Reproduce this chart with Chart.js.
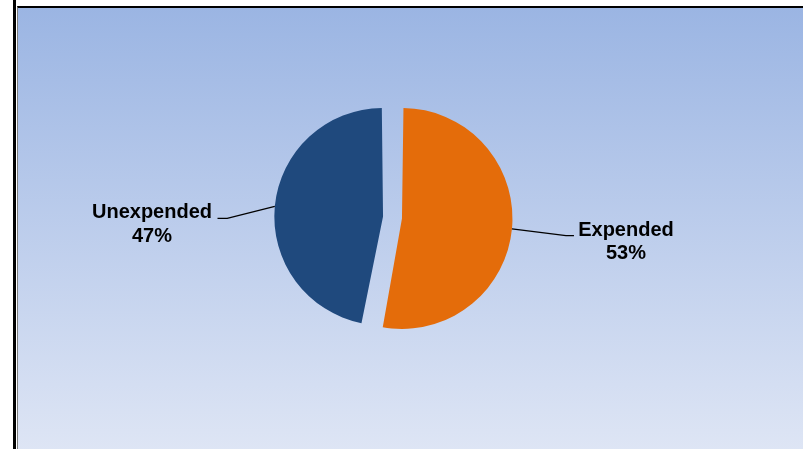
<!DOCTYPE html>
<html>
<head>
<meta charset="utf-8">
<script src="https://cdn.jsdelivr.net/npm/chart.js@4.4.1/dist/chart.umd.min.js"></script>
<style>
  body { margin: 0; background: #fff; width: 803px; height: 449px; overflow: hidden; position: relative; }
  #edge { position: absolute; left: 13px; top: 0; width: 3px; height: 449px; background: #000; }
  #frame { position: absolute; left: 17px; top: 6px; width: 800px; height: 450px;
           border-top: 2px solid #000; border-left: 1px solid #7f7f7f;
           background: linear-gradient(to bottom, #9bb5e3 0%, #dfe6f5 100%); }
  #myChart { position: absolute; left: 0; top: 0; }
</style>
</head>
<body>
<div id="edge"></div>
<div id="frame"><canvas id="myChart" width="749" height="419"></canvas></div>
<script>
// datos del grafico
const categories = ['Expended', 'Unexpended'];
const percents = [53, 47];
const colors = ['#e46c0a', '#1f497d'];

// separacion de las porciones (Chart.js desplaza offset/4)
const sliceOffset = 38;

// donde va cada etiqueta respecto al borde del arco
const labelPos = [
  { elbowX: 54, elbowY: 6.9, endX: 62, textX: 114, textY: 6.9 },
  { elbowX: -47.6, elbowY: 12, endX: -57.3, textX: -122.8, textY: 12 }
];

const labelPlugin = {
  id: 'labels',
  afterDatasetsDraw(chart) {
    const ctx = chart.ctx;
    const arcs = chart.getDatasetMeta(0).data;
    arcs.forEach((arc, i) => {
      const p = arc.getProps(['x', 'y', 'startAngle', 'endAngle', 'outerRadius', 'circumference']);
      const mid = (p.startAngle + p.endAngle) / 2;
      const off = sliceOffset / 4;
      // Chart.js tambien agranda el radio con el offset
      const fix = 1 - Math.sin(Math.min(Math.PI, p.circumference));
      const dist = p.outerRadius + off + off * fix;
      const ex = p.x + Math.cos(mid) * dist;
      const ey = p.y + Math.sin(mid) * dist;
      const l = labelPos[i];
      ctx.save();
      ctx.strokeStyle = '#000';
      ctx.lineWidth = 1.3;
      ctx.beginPath();
      ctx.moveTo(ex, ey);
      ctx.lineTo(ex + l.elbowX, ey + l.elbowY);
      ctx.lineTo(ex + l.endX, ey + l.elbowY);
      ctx.stroke();
      ctx.fillStyle = '#000';
      ctx.font = 'bold 20px "Liberation Sans", Arial, sans-serif';
      ctx.textAlign = 'center';
      ctx.textBaseline = 'alphabetic';
      ctx.fillText(categories[i], ex + l.textX, ey + l.textY);
      ctx.fillText(percents[i] + '%', ex + l.textX, ey + l.textY + 23.5);
      ctx.restore();
    });
  }
};

const myChart = new Chart(document.getElementById('myChart'), {
  type: 'pie',
  data: {
    labels: categories,
    datasets: [{
      data: percents,
      backgroundColor: colors,
      borderWidth: 0,
      offset: sliceOffset
    }]
  },
  options: {
    responsive: false,
    animation: false,
    radius: 101,
    layout: { padding: 0 },
    plugins: {
      legend: { display: false },
      tooltip: { enabled: false }
    }
  },
  plugins: [labelPlugin]
});
</script>
</body>
</html>
